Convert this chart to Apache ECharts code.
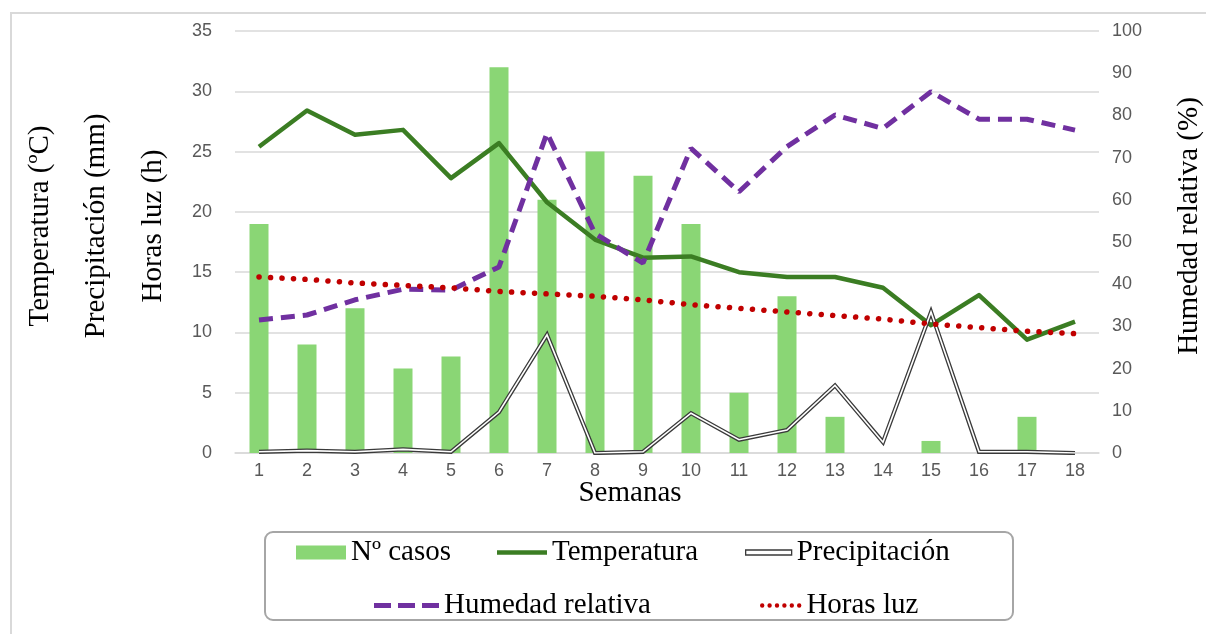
<!DOCTYPE html>
<html>
<head>
<meta charset="utf-8">
<script src="https://cdn.jsdelivr.net/npm/echarts@6/dist/echarts.min.js"></script>
<style>
  html, body { margin: 0; padding: 0; background: #fff; }
  #chart { width: 1206px; height: 634px; }
</style>
</head>
<body>
<div id="chart"></div>
<script>
// Weekly series
const semanas = ['1','2','3','4','5','6','7','8','9','10','11','12','13','14','15','16','17','18'];
const casos = [19, 9, 12, 7, 8, 32, 21, 25, 23, 19, 5, 13, 3, 0, 1, 0, 3, 0];
const temperatura = [25.4, 28.4, 26.4, 26.8, 22.8, 25.7, 20.8, 17.7, 16.2, 16.3, 15.0, 14.6, 14.6, 13.7, 10.6, 13.1, 9.4, 10.9];
const precipitacion = [0.1, 0.2, 0.1, 0.3, 0.1, 3.4, 9.8, 0.0, 0.1, 3.3, 1.1, 1.9, 5.6, 0.9, 11.7, 0.1, 0.1, 0.0];
const humedad = [31.5, 32.7, 36.3, 38.8, 38.6, 44.1, 75.8, 52.0, 45.0, 72.2, 61.9, 72.6, 80.1, 76.9, 85.6, 79.1, 79.1, 76.5];
const horasLuz = [14.6, 14.4, 14.1, 13.9, 13.7, 13.4, 13.2, 13.0, 12.7, 12.3, 12.0, 11.7, 11.4, 11.1, 10.7, 10.4, 10.1, 9.9];

const serif = '"Liberation Serif", "Times New Roman", serif';
const sans = '"Liberation Sans", Arial, sans-serif';

const C = {
  bar: '#8AD675',
  temp: '#3B7D23',
  precip: '#3A3A3A',
  hum: '#7030A0',
  luz: '#C00000',
  grid: '#D9D9D9',
  tick: '#595959'
};

// Legend key shapes
const iconSolid = 'path://M0,0h50v4.5H0z';
const iconDashes = 'path://M0,0h17v5H0z M24,0h17v5H24z M48,0h17v5H48z';
function dotsPath(n, r, step) {
  let d = '';
  for (let k = 0; k < n; k++) {
    const cx = r + k * step;
    d += 'M' + (cx - r) + ',' + r + 'a' + r + ',' + r + ' 0 1,0 ' + (2 * r) + ',0' +
         'a' + r + ',' + r + ' 0 1,0 ' + (-2 * r) + ',0z ';
  }
  return 'path://' + d.trim();
}
const iconDots = dotsPath(6, 2.2, 7.4);

const chart = echarts.init(document.getElementById('chart'), null, { renderer: 'canvas' });

const legendText = { fontFamily: serif, fontSize: 29, color: '#000' };
function legendAt(item, left, top, w, h) {
  return {
    data: [item],
    left: left,
    top: top,
    itemWidth: w,
    itemHeight: h,
    padding: 0,
    textStyle: legendText,
    selectedMode: false
  };
}

const option = {
  animation: false,
  grid: { left: 235, right: 107, top: 31, bottom: 181 },
  graphic: [
    { type: 'rect', shape: { x: 11, y: 13, width: 1300, height: 700 }, style: { fill: 'none', stroke: '#D9D9D9', lineWidth: 2 }, silent: true },
    { type: 'rect', shape: { x: 265, y: 532, width: 748, height: 88, r: 8 }, style: { fill: 'none', stroke: '#A6A6A6', lineWidth: 2 }, silent: true, z: -1 },
    { type: 'text', x: 40, y: 226, rotation: Math.PI / 2, style: { text: 'Temperatura (ºC)', font: '29px ' + serif, fill: '#000', textAlign: 'center', textVerticalAlign: 'middle' } },
    { type: 'text', x: 96, y: 226, rotation: Math.PI / 2, style: { text: 'Precipitación (mm)', font: '29px ' + serif, fill: '#000', textAlign: 'center', textVerticalAlign: 'middle' } },
    { type: 'text', x: 153, y: 226, rotation: Math.PI / 2, style: { text: 'Horas luz (h)', font: '29px ' + serif, fill: '#000', textAlign: 'center', textVerticalAlign: 'middle' } },
    { type: 'text', x: 1189, y: 226, rotation: Math.PI / 2, style: { text: 'Humedad relativa (%)', font: '29px ' + serif, fill: '#000', textAlign: 'center', textVerticalAlign: 'middle' } },
    { type: 'text', x: 630, y: 493, style: { text: 'Semanas', font: '29px ' + serif, fill: '#000', textAlign: 'center', textVerticalAlign: 'middle' } }
  ],
  legend: [
    legendAt({ name: 'Nº casos', icon: 'rect' }, 296, 538, 50, 14),
    legendAt({ name: 'Temperatura', icon: iconSolid, itemStyle: { color: C.temp } }, 497, 538, 50, 4.5),
    legendAt({ name: 'Precipitación', icon: 'rect', itemStyle: { color: '#FFFFFF', borderColor: C.precip, borderWidth: 1.3 } }, 745, 538, 46, 5),
    legendAt({ name: 'Humedad relativa', icon: iconDashes, itemStyle: { color: C.hum } }, 374, 591, 65, 5),
    legendAt({ name: 'Horas luz', icon: iconDots, itemStyle: { color: C.luz } }, 760, 591, 41.4, 4.4)
  ],
  xAxis: {
    type: 'category',
    data: semanas,
    boundaryGap: true,
    axisLine: { show: true, lineStyle: { color: C.grid, width: 1.5 } },
    axisTick: { show: false },
    axisLabel: { fontFamily: sans, fontSize: 18, color: C.tick, margin: 9 }
  },
  yAxis: [
    {
      type: 'value', min: 0, max: 35, interval: 5,
      axisLine: { show: false }, axisTick: { show: false },
      splitLine: { lineStyle: { color: C.grid, width: 1.5 } },
      axisLabel: { fontFamily: sans, fontSize: 18, color: C.tick, margin: 23 }
    },
    {
      type: 'value', min: 0, max: 100, interval: 10,
      axisLine: { show: false }, axisTick: { show: false },
      splitLine: { show: false },
      axisLabel: { fontFamily: sans, fontSize: 18, color: C.tick, margin: 13 }
    }
  ],
  series: [
    {
      name: 'Nº casos', type: 'bar', data: casos, yAxisIndex: 0,
      barWidth: 19, itemStyle: { color: C.bar }, z: 1
    },
    {
      name: 'Temperatura', type: 'line', data: temperatura, yAxisIndex: 0,
      symbol: 'none', showSymbol: false,
      lineStyle: { color: C.temp, width: 4.5, join: 'round' },
      itemStyle: { color: C.temp }, z: 3
    },
    {
      name: 'Precipitación', type: 'line', data: precipitacion, yAxisIndex: 0,
      symbol: 'none', showSymbol: false,
      lineStyle: { color: C.precip, width: 4.2, join: 'miter' },
      itemStyle: { color: C.precip }, z: 4
    },
    {
      name: 'Precipitación-interior', type: 'line', data: precipitacion, yAxisIndex: 0,
      symbol: 'none', showSymbol: false,
      lineStyle: { color: '#FFFFFF', width: 1.6, join: 'miter' },
      itemStyle: { color: '#FFFFFF' }, z: 5
    },
    {
      name: 'Humedad relativa', type: 'line', data: humedad, yAxisIndex: 1,
      symbol: 'none', showSymbol: false,
      lineStyle: { color: C.hum, width: 5, type: [14, 8], cap: 'butt' },
      itemStyle: { color: C.hum }, z: 6
    },
    {
      name: 'Horas luz', type: 'line', data: horasLuz, yAxisIndex: 0,
      symbol: 'none', showSymbol: false,
      lineStyle: { color: C.luz, width: 5.5, type: [0.1, 11.4], cap: 'round' },
      itemStyle: { color: C.luz }, z: 7
    }
  ]
};

chart.setOption(option);
</script>
</body>
</html>
